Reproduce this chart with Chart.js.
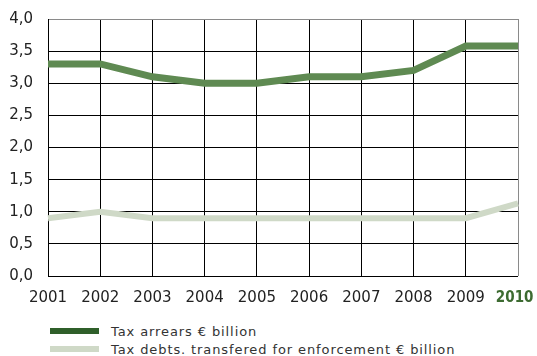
<!DOCTYPE html>
<html><head><meta charset="utf-8">
<script src="https://cdn.jsdelivr.net/npm/chart.js@4/dist/chart.umd.min.js"></script>
<style>
html,body{margin:0;padding:0;background:#fff;}
#wrap{position:relative;width:537px;height:356px;overflow:hidden;}
#c{position:absolute;left:0;top:0;}
#legend{position:absolute;left:50px;top:322px;font-family:"DejaVu Sans",sans-serif;font-size:13px;letter-spacing:0.9px;color:#333;}
.item{display:flex;align-items:center;height:18px;}
.sw{width:49px;height:6px;margin-right:12px;}
</style></head>
<body><div id="wrap"><canvas id="c" width="537" height="310"></canvas><div id="legend"></div></div>
<script>
const years = ['2001','2002','2003','2004','2005','2006','2007','2008','2009','2010'];
const taxArrears = [3.3,3.3,3.1,3.0,3.0,3.1,3.1,3.2,3.58,3.58];
const taxDebtsEnforcement = [0.9,1.0,0.9,0.9,0.9,0.9,0.9,0.9,0.9,1.13];
const seriesLabels = ['Tax arrears € billion','Tax debts. transfered for enforcement € billion'];
const lineColors = ['#5f8a52','#cfd9c7'];
const legendColors = ['#2f5f2a','#cfd9c7'];
const yTicks = [0,0.5,1,1.5,2,2.5,3,3.5,4];

const font = "'DejaVu Sans', sans-serif";
const last = years.length-1;
new Chart(document.getElementById('c'), {
  type:'line',
  data:{labels:years,datasets:[
    {label:seriesLabels[0],data:taxArrears,borderColor:lineColors[0],borderWidth:7,pointRadius:0,tension:0,borderCapStyle:'butt'},
    {label:seriesLabels[1],data:taxDebtsEnforcement,borderColor:lineColors[1],borderWidth:6,pointRadius:0,tension:0,borderCapStyle:'butt'}
  ]},
  options:{
    responsive:false,animation:false,
    layout:{padding:{left:0,right:19,top:19,bottom:0}},
    plugins:{legend:{display:false},tooltip:{enabled:false}},
    scales:{
      x:{
        offset:false,
        grid:{color:c=>c.index===last?'#8a8a8a':'#000',lineWidth:1,drawTicks:false},
        border:{display:false},
        ticks:{padding:13,maxRotation:0,autoSkip:false,
          callback:function(v,i){const l=this.getLabelForValue(v);return i===last?l+'\u2002':l;},
          color:c=>c.index===last?'#3d6b31':'#222',
          font:c=>c.index===last?{family:"'DejaVu Sans Condensed', 'DejaVu Sans', sans-serif",size:15,weight:'bold'}:{family:font,size:15}},
        afterFit:s=>{s.height=34;s.paddingLeft=0;s.paddingRight=0;}
      },
      y:{
        min:0,max:4,
        afterBuildTicks:s=>{s.ticks=yTicks.map(v=>({value:v}));},
        grid:{color:c=>c.index===yTicks.length-1?'#8a8a8a':'#000',lineWidth:1,drawTicks:false},
        border:{color:'#000'},
        ticks:{padding:15,color:'#222',font:{family:font,size:15},
          callback:v=>v.toFixed(1).replace('.',',')},
        afterFit:s=>{s.width=48;s.paddingTop=0;s.paddingBottom=0;}
      }
    }
  }
});
const lg=document.getElementById('legend');
seriesLabels.forEach((l,i)=>{
  const d=document.createElement('div');d.className='item';
  d.innerHTML='<span class="sw" style="background:'+legendColors[i]+'"></span><span></span>';
  d.lastChild.textContent=l;lg.appendChild(d);
});
</script></body></html>
